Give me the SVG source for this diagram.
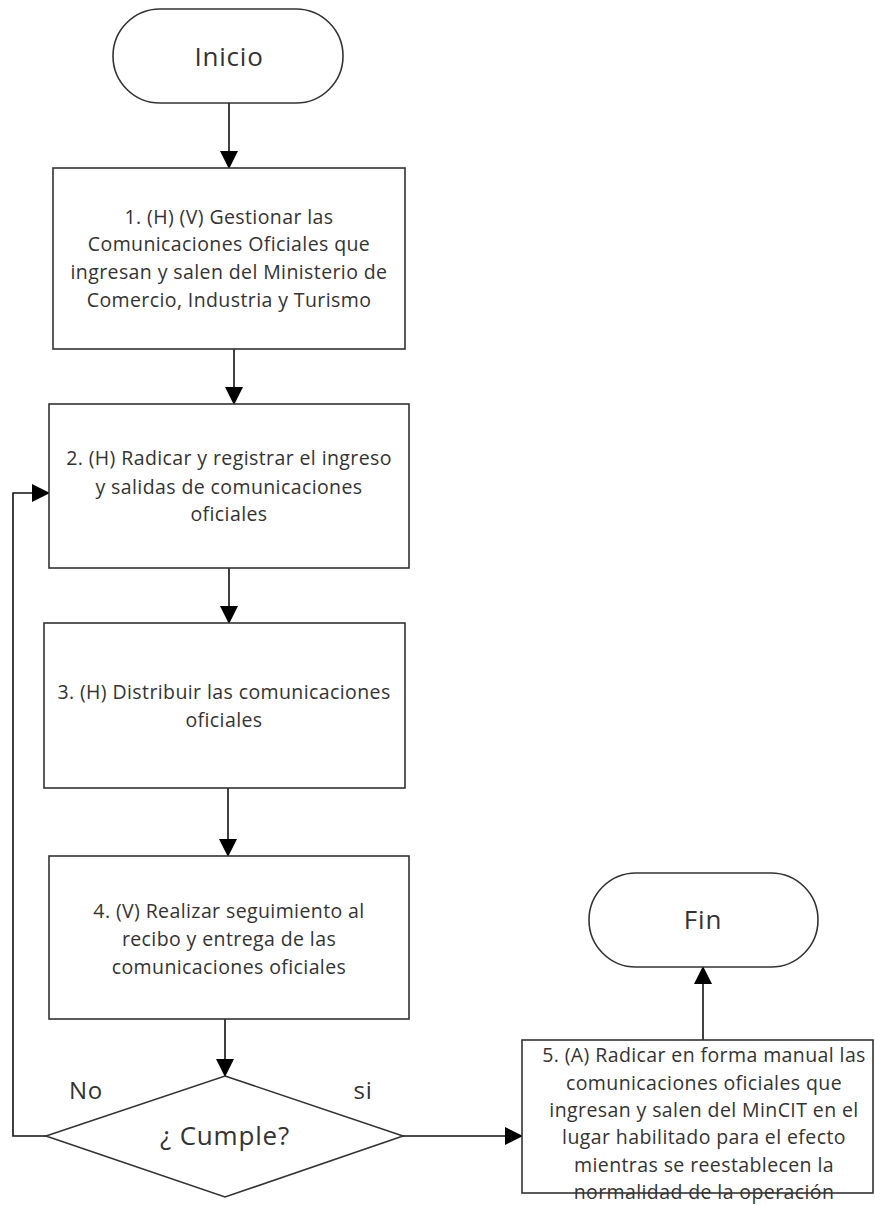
<svg xmlns="http://www.w3.org/2000/svg" width="875" height="1205" viewBox="0 0 875 1205">
<defs>
<style>
.shape{fill:#fff;stroke:#333;stroke-width:1.6}
.conn{fill:none;stroke:#111;stroke-width:1.6}
text{font-family:"Open Sans","DejaVu Sans",sans-serif;fill:#333;text-anchor:middle}
.t{font-size:19.5px;letter-spacing:0.4px}
.big{font-size:26px;letter-spacing:0.8px}
</style>
<marker id="arr" markerWidth="18" markerHeight="18" refX="17" refY="9" orient="auto" markerUnits="userSpaceOnUse">
<path d="M0,0 L18,9 L0,18 Z" fill="#000"/>
</marker>
</defs>
<rect width="875" height="1205" fill="#fff"/>
<g id="connectors">
<line class="conn" x1="229" y1="103" x2="229" y2="168" marker-end="url(#arr)"/>
<line class="conn" x1="234" y1="349" x2="234" y2="404" marker-end="url(#arr)"/>
<line class="conn" x1="229" y1="568" x2="229" y2="623" marker-end="url(#arr)"/>
<line class="conn" x1="228" y1="788" x2="228" y2="856" marker-end="url(#arr)"/>
<line class="conn" x1="225" y1="1019" x2="225" y2="1076" marker-end="url(#arr)"/>
<polyline class="conn" points="46,1136 13,1136 13,493 49,493" marker-end="url(#arr)"/>
<line class="conn" x1="403" y1="1136" x2="522" y2="1136" marker-end="url(#arr)"/>
<line class="conn" x1="703" y1="1040" x2="703" y2="967" marker-end="url(#arr)"/>
<text class="big" x="86" y="1099" style="font-size:24px">No</text>
<text class="big" x="363" y="1099" style="font-size:24px">si</text>
</g>
<g id="inicio">
<rect class="shape" x="113" y="9" width="230" height="94" rx="47" ry="47"/>
<text class="big" x="229" y="66">Inicio</text>
</g>
<g id="n1">
<rect class="shape" x="53" y="168" width="352" height="181"/>
<text class="t" x="229" y="224">1. (H) (V) Gestionar las</text>
<text class="t" x="229" y="251">Comunicaciones Oficiales que</text>
<text class="t" x="229" y="279">ingresan y salen del Ministerio de</text>
<text class="t" x="229" y="307">Comercio, Industria y Turismo</text>
</g>
<g id="n2">
<rect class="shape" x="49" y="404" width="360" height="164"/>
<text class="t" x="229" y="465">2. (H) Radicar y registrar el ingreso</text>
<text class="t" x="229" y="494">y salidas de comunicaciones</text>
<text class="t" x="229" y="521">oficiales</text>
</g>
<g id="n3">
<rect class="shape" x="44" y="623" width="361" height="165"/>
<text class="t" x="224" y="699">3. (H) Distribuir las comunicaciones</text>
<text class="t" x="224" y="727">oficiales</text>
</g>
<g id="n4">
<rect class="shape" x="49" y="856" width="360" height="163"/>
<text class="t" x="229" y="918">4. (V) Realizar seguimiento al</text>
<text class="t" x="229" y="946">recibo y entrega de las</text>
<text class="t" x="229" y="974">comunicaciones oficiales</text>
</g>
<g id="decision">
<polygon class="shape" points="225,1076 403,1136 225,1197 46,1136"/>
<text class="big" x="225" y="1145">¿ Cumple?</text>
</g>
<g id="n5">
<rect class="shape" x="522" y="1040" width="351" height="153"/>
<text class="t" x="704" y="1062">5. (A) Radicar en forma manual las</text>
<text class="t" x="704" y="1090">comunicaciones oficiales que</text>
<text class="t" x="704" y="1117">ingresan y salen del MinCIT en el</text>
<text class="t" x="704" y="1144">lugar habilitado para el efecto</text>
<text class="t" x="704" y="1172">mientras se reestablecen la</text>
<text class="t" x="704" y="1199">normalidad de la operación</text>
</g>
<g id="fin">
<rect class="shape" x="589" y="873" width="229" height="94" rx="47" ry="47"/>
<text class="big" x="703" y="929">Fin</text>
</g>
</svg>
